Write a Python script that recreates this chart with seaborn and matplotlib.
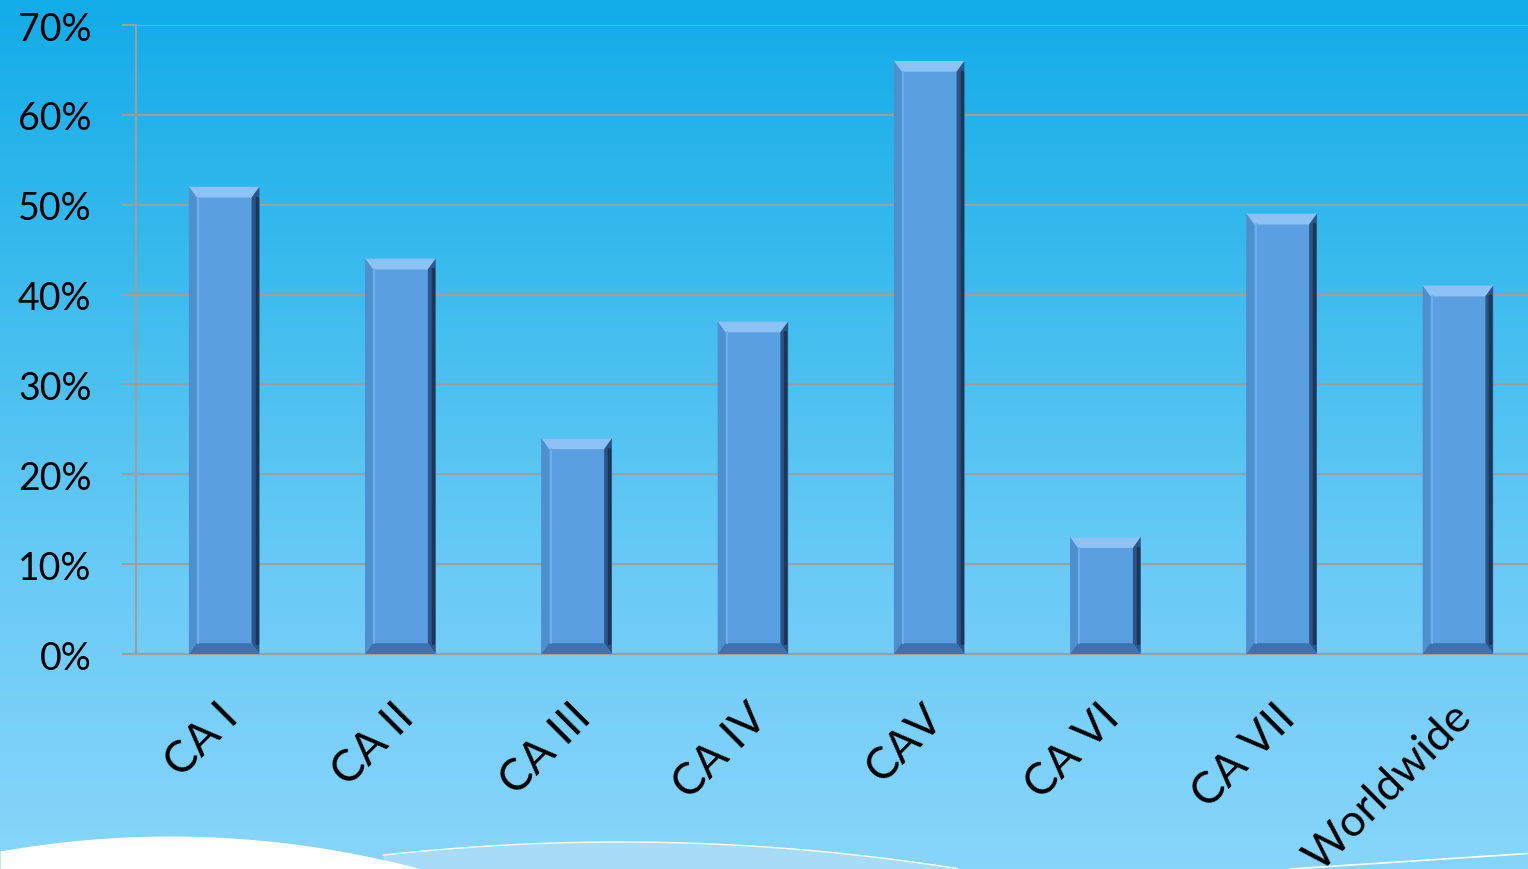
import numpy as np
import pandas as pd
import seaborn as sns
import matplotlib.pyplot as plt
from matplotlib.patches import Polygon
from matplotlib.colors import LinearSegmentedColormap
from matplotlib.ticker import FuncFormatter, FixedLocator
from matplotlib.transforms import ScaledTranslation

sns.set_style("white")
plt.rcParams['font.family'] = ['Lato', 'DejaVu Sans']

# data
categories = ["CA I", "CA II", "CA III", "CA IV", "CAV", "CA VI", "CA VII", "Worldwide"]
values = [52, 44, 24, 37, 66, 13, 49, 41]
y_ticks = [0, 10, 20, 30, 40, 50, 60, 70]

df = pd.DataFrame({"group": categories, "share": values})

fig = plt.figure(figsize=(15.28, 8.70), dpi=100)

# gradient background + bottom swoosh
bg = fig.add_axes([0, 0, 1, 1], zorder=0)
grad = LinearSegmentedColormap.from_list("bg", ["#12ACE8", "#3DBCEE", "#6ACBF6", "#88D5FA"])
bg.imshow(np.linspace(0, 1, 256).reshape(-1, 1), cmap=grad, aspect="auto",
          extent=[0, 1528, 870, 0])
xs = np.linspace(0, 1528, 400)
white_top = 837 + 15 * ((xs - 170) / 170) ** 2
band_top = 843 + 27 * ((xs - 620) / 340) ** 2
band = (xs > 380) & (xs < 960)
bg.fill_between(xs, band_top, 880, where=band, color="#A6DCF8", lw=0, zorder=0.5)
bg.fill_between(xs, white_top, 880, where=xs < 560, color="white", lw=0, zorder=0.6)
bg.plot(xs[band], band_top[band], color="white", lw=1)
rx = xs[xs > 1290]
bg.plot(rx, 870 - (rx - 1290) * 0.065, color="white", lw=1.2)
bg.set_xlim(0, 1528)
bg.set_ylim(870, 0)
bg.axis("off")

ax = fig.add_axes([0.089, 0.2471, 0.9228, 0.7230], zorder=1)
ax.patch.set_alpha(0)

sns.barplot(data=df, x="group", y="share", color="#5A9FE0", width=0.4,
            saturation=1, linewidth=0, ax=ax, zorder=3)

# bevel look on each bar
for p in ax.patches:
    x0, w, h = p.get_x(), p.get_width(), p.get_height()
    bx, by = w * 0.11, 1.2
    x1 = x0 + w
    top = [(x0, h), (x1, h), (x1 - bx, h - by), (x0 + bx, h - by)]
    left = [(x0, h), (x0 + bx, h - by), (x0 + bx, by), (x0, 0)]
    right = [(x1, h), (x1 - bx, h - by), (x1 - bx, by), (x1, 0)]
    bottom = [(x0, 0), (x0 + bx, by), (x1 - bx, by), (x1, 0)]
    ax.add_patch(Polygon(top, closed=True, fc="#8CC3F4", ec="none", zorder=4))
    ax.add_patch(Polygon(left, closed=True, fc="#4E8FD0", ec="none", zorder=4))
    ax.add_patch(Polygon(right, closed=True, fc="#2B5488", ec="none", zorder=4))
    ax.add_patch(Polygon(bottom, closed=True, fc="#3E72AE", ec="none", zorder=4))
    ax.plot([x1 - bx * 0.35] * 2, [by, h - by], color="#1C3658", lw=2.5, zorder=5)
    ax.plot([x0 + bx * 1.2] * 2, [by, h - by], color="#6AAEEC", lw=1.5, zorder=5)

ax.set_xlim(-0.5, 7.5)
ax.set_ylim(0, 70)
ax.set_yticks(y_ticks)
ax.yaxis.set_major_formatter(FuncFormatter(lambda v, _: f"{int(v)}%"))
ax.grid(axis="y", color="#9E9E9E", lw=1.5, zorder=1)

ax.set_xticks(range(len(categories)))
ax.set_xticklabels(categories, rotation=45, ha="right", rotation_mode="anchor")
ax.xaxis.set_minor_locator(FixedLocator(np.arange(-0.5, 8, 1.0)))
ax.tick_params(axis="x", which="major", length=0, pad=30, labelsize=32, labelcolor="black")
ax.tick_params(axis="x", which="minor", length=11, width=1.5, color="#9E9E9E", direction="out")
ax.tick_params(axis="y", length=10, width=1.5, color="#9E9E9E", pad=22, labelsize=27,
               left=True, labelcolor="black")
for lab in ax.get_xticklabels():
    lab.set_transform(lab.get_transform() + ScaledTranslation(-0.07, 0, fig.dpi_scale_trans))

for s in ["top", "right"]:
    ax.spines[s].set_visible(False)
for s in ["left", "bottom"]:
    ax.spines[s].set_color("#9E9E9E")
    ax.spines[s].set_linewidth(1.5)
ax.set_xlabel("")
ax.set_ylabel("")

fig.savefig("out.png", dpi=100)
